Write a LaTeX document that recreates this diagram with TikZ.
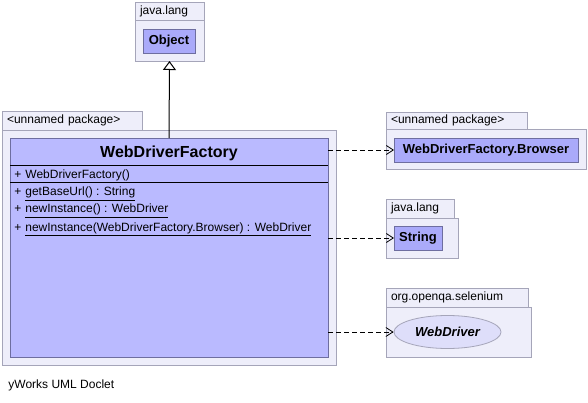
\documentclass[tikz,border=0pt]{standalone}
\usepackage{fontspec}
\setmainfont{Liberation Sans}
\usetikzlibrary{arrows.meta, positioning, shapes.geometric}
\definecolor{pkgfill}{RGB}{238,238,250}
\definecolor{pkgline}{RGB}{165,165,185}
\definecolor{classfill}{RGB}{186,186,255}
\definecolor{refFill}{RGB}{170,170,250}
\definecolor{classline}{RGB}{110,110,160}
\definecolor{ifacefill}{RGB}{222,222,250}
% underline for static members
\newcommand{\staticline}[1]{\leavevmode\vtop{\hbox{#1}\kern1.2pt\hrule height 0.9pt}}

\begin{document}
\begin{tikzpicture}[x=1pt, y=-1pt, line width=0.8pt,
  box/.style={draw, anchor=north west, inner sep=0pt, outer sep=0pt},
  pkgbody/.style={box, fill=pkgfill, draw=pkgline},
  pkgtab/.style={pkgbody, font=\fontsize{12}{14}\selectfont, align=left, inner xsep=5pt},
  refbox/.style={draw=classline, fill=refFill, inner sep=0pt, outer sep=0pt, font=\bfseries\fontsize{13}{15}\selectfont},
  member/.style={anchor=base west, inner sep=0pt, font=\fontsize{12}{14}\selectfont},
  dep/.style={dash pattern=on 5pt off 3pt, -{Straight Barb[length=7pt, width=9pt]}},
  inherit/.style={draw=black, line width=1pt, -{Triangle[open, length=9pt, width=13pt]}}
]

% Fix the canvas
\useasboundingbox (0,0) rectangle (588,403);

% Package java.lang (top)
\node[pkgtab, minimum width=69pt, minimum height=18pt, text width=59pt] (objtab) at (135,2) {java.lang};
\node[pkgbody, minimum width=69pt, minimum height=41pt] (objpkg) at (135,20) {};
\node[refbox, minimum width=52pt, minimum height=24pt] (object) at (169,41) {Object};

% Unnamed package with the class
\node[pkgtab, minimum width=140pt, minimum height=19pt, text width=130pt] (maintab) at (2,111) {<unnamed package>};
\node[pkgbody, minimum width=334pt, minimum height=235pt] (mainpkg) at (2,130) {};
\node[box, draw=classline, fill=classfill, minimum width=318pt, minimum height=219pt] (factory) at (10,138) {};

% Class compartments
\node[font=\bfseries\fontsize{16}{19}\selectfont, inner sep=0pt, anchor=base] (name) at (169,158) {WebDriverFactory};
\draw (10,165) -- (328,165);
\draw (10,182) -- (328,182);
\node[member] (ctor) at (14,179) {+\hspace{4pt}WebDriverFactory()};
\node[member] (geturl) at (14,196) {+\hspace{4pt}\staticline{getBaseUrl() : String}};
\node[member] (newinst) at (14,213) {+\hspace{4pt}\staticline{newInstance() : WebDriver}};
\node[member] (newinstb) at (14,231) {+\hspace{4pt}\staticline{newInstance(WebDriverFactory.Browser) : WebDriver}};

% Package <unnamed package> (right)
\node[pkgtab, minimum width=141pt, minimum height=17pt, text width=131pt] (brtab) at (386,112) {<unnamed package>};
\node[pkgbody, minimum width=200pt, minimum height=40pt] (brpkg) at (386,129) {};
\node[refbox, minimum width=184pt, minimum height=24pt] (browser) at (486,150) {WebDriverFactory.Browser};

% Package java.lang (right)
\node[pkgtab, minimum width=68pt, minimum height=19pt, text width=58pt] (strtab) at (386,199) {java.lang};
\node[pkgbody, minimum width=72pt, minimum height=40pt] (strpkg) at (386,218) {};
\node[refbox, minimum width=48pt, minimum height=24pt] (string) at (418,238) {String};

% Package org.openqa.selenium
\node[pkgtab, minimum width=142pt, minimum height=19pt, text width=132pt] (seltab) at (386,288) {org.openqa.selenium};
\node[pkgbody, minimum width=145pt, minimum height=50pt] (selpkg) at (386,307) {};
\node[ellipse, draw=pkgline, fill=ifacefill, inner sep=0pt, minimum width=107pt, minimum height=33pt,
  font=\bfseries\itshape\fontsize{13}{15}\selectfont] (webdriver) at (447.5,332) {WebDriver};

% Generalization
\draw[inherit] (factory.north) -- (objpkg.south);

% Dependencies
\draw[dep] (factory.east |- browser.west) -- (browser.west);
\draw[dep] (factory.east |- string.west) -- (string.west);
\draw[dep] (factory.east |- webdriver.west) -- (webdriver.west);

% Footer
\node[anchor=west, inner sep=0pt, font=\fontsize{12}{14}\selectfont] (footer) at (8,385) {yWorks UML Doclet};

\end{tikzpicture}
\end{document}
